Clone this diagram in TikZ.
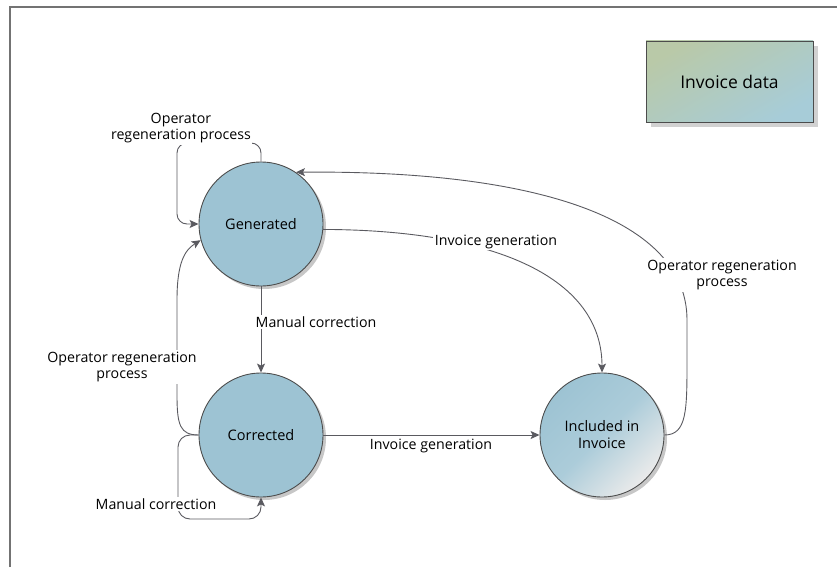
\documentclass[tikz,border=0pt]{standalone}
\usepackage{fontspec}
\setmainfont{Open Sans}
\usetikzlibrary{arrows.meta,shadows}

\definecolor{stateblue}{HTML}{9DC3D3}
\definecolor{edgegray}{HTML}{5A5A60}
\definecolor{datagreen}{HTML}{B9C9A8}
\definecolor{datablue}{HTML}{A7CCD8}

\tikzset{
  state/.style={circle, draw=black!70, line width=0.9pt, minimum size=124pt,
    fill=stateblue, align=center, font=\fontsize{14.5}{17}\selectfont,
    drop shadow={shadow xshift=3pt, shadow yshift=-3pt, fill=black!22, opacity=1}},
  flow/.style={draw=edgegray, line width=0.9pt,
    -{Stealth[length=9pt, width=8pt, inset=2pt]}},
  lbl/.style={fill=white, inner sep=1.5pt, align=center,
    font=\fontsize{14.2}{16.5}\selectfont},
}

\begin{document}
\begin{tikzpicture}[x=1pt, y=-1pt]
  \useasboundingbox (0,0) rectangle (837,567);
  % frame
  \draw[black!55, line width=1.8pt] (10,567) -- (10,7) -- (837,7);

  % states
  \node[state] (gen) at (261,224) {Generated};
  \node[state] (corr) at (261,435) {Corrected};
  \node[state, shading=axis, top color=stateblue, bottom color=black!8,
    middle color=stateblue!85!white, shading angle=45] (incl) at (602,435) {Included in\\Invoice};

  % data box
  \node[draw=black!70, line width=0.9pt, minimum width=167pt, minimum height=81pt,
    shading=axis, left color=datagreen, right color=datablue, shading angle=30,
    drop shadow={shadow xshift=5pt, shadow yshift=-5pt, fill=black!18, opacity=1},
    font=\fontsize{17.5}{20}\selectfont] (data) at (729.5,81.5) {Invoice data};

  % transitions
  \draw[flow, rounded corners=10pt] (gen.north) |- (177,143) |- (gen.west);
  \draw[flow] (gen.south) -- (corr.north);
  \draw[flow] (gen.-5) .. controls (500,230) and (602,280) .. (incl.north);
  \draw[flow] (corr.west) .. controls (180,435) and (177,425) .. (177,395)
    -- (177,300) .. controls (177,262) and (185,250) .. (gen.195);
  \draw[flow, rounded corners=12pt] (corr.west) -| (178,519) -| (corr.south);
  \draw[flow] (corr.east) -- (incl.west);
  \draw[flow] (incl.east) .. controls (687,435) and (687,410) .. (687,360)
    -- (687,320) .. controls (687,220) and (540,170) .. (gen.56);

  % labels
  \node[lbl] (l1) at (181,128) {Operator\\regeneration process};
  \node[lbl, anchor=west] (l2) at (254,322) {Manual correction};
  \node[lbl] (l3) at (496,242) {Invoice generation};
  \node[lbl] (l4) at (122,367) {Operator regeneration\\process};
  \node[lbl] (l5) at (156,504) {Manual correction};
  \node[lbl, fill opacity=0.75, text opacity=1] (l6) at (431,446) {Invoice generation};
  \node[lbl] (l7) at (722,275) {Operator regeneration\\process};
\end{tikzpicture}
\end{document}
